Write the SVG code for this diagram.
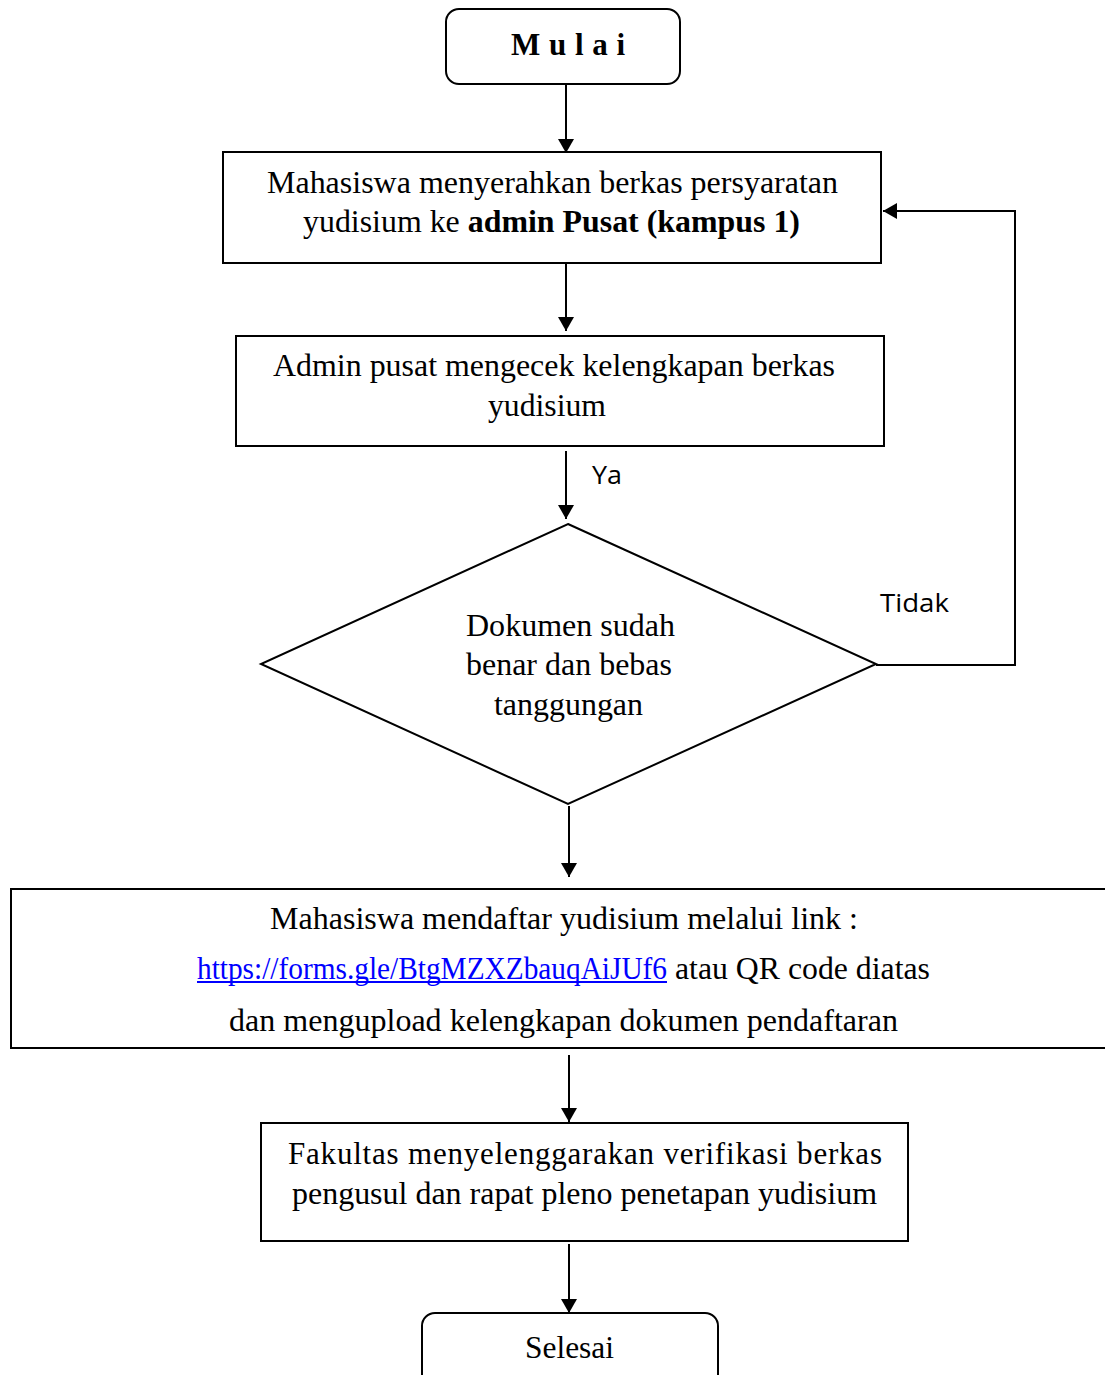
<svg xmlns="http://www.w3.org/2000/svg" width="1105" height="1375" viewBox="0 0 1105 1375">
<style>
.box{fill:#fff;stroke:#000;stroke-width:2}
.t{font-family:"Liberation Serif","Times New Roman",serif;font-size:31px;fill:#000}
.s{font-family:"Open Sans","Liberation Sans",Arial,sans-serif;font-size:26px;fill:#000}
.c{fill:none;stroke:#000;stroke-width:2}
</style>
<defs>
<marker id="ah" viewBox="0 0 14 16" refX="14" refY="8" markerWidth="14" markerHeight="16" markerUnits="userSpaceOnUse" orient="auto">
<path d="M0,0 L14,8 L0,16 Z" fill="#000"/>
</marker>
</defs>
<rect width="1105" height="1375" fill="#fff"/>
<g id="connectors">
<line class="c" x1="566" y1="84" x2="566" y2="153" marker-end="url(#ah)"/>
<line class="c" x1="566" y1="263" x2="566" y2="331" marker-end="url(#ah)"/>
<line class="c" x1="566" y1="451" x2="566" y2="519" marker-end="url(#ah)"/>
<polyline class="c" points="876,665 1015,665 1015,211 883,211" marker-end="url(#ah)"/>
<line class="c" x1="569" y1="806" x2="569" y2="877" marker-end="url(#ah)"/>
<line class="c" x1="569" y1="1055" x2="569" y2="1122" marker-end="url(#ah)"/>
<line class="c" x1="569" y1="1244" x2="569" y2="1313" marker-end="url(#ah)"/>
<text class="s" x="592" y="484" textLength="30" lengthAdjust="spacingAndGlyphs">Ya</text>
<text class="s" x="880" y="612" textLength="69" lengthAdjust="spacingAndGlyphs">Tidak</text>
</g>
<g id="mulai">
<rect class="box" x="446" y="9" width="234" height="75" rx="13"/>
<text class="t" x="511" y="55" font-size="32" font-weight="bold" textLength="114" lengthAdjust="spacing">Mulai</text>
</g>
<g id="serah">
<rect class="box" x="223" y="152" width="658" height="111"/>
<text class="t" x="267" y="193" textLength="571" lengthAdjust="spacingAndGlyphs">Mahasiswa menyerahkan berkas persyaratan</text>
<text class="t" x="303" y="232" textLength="497" lengthAdjust="spacingAndGlyphs">yudisium ke <tspan font-weight="bold">admin Pusat (kampus 1)</tspan></text>
</g>
<g id="cek">
<rect class="box" x="236" y="336" width="648" height="110"/>
<text class="t" x="273" y="376" textLength="562" lengthAdjust="spacingAndGlyphs">Admin pusat mengecek kelengkapan berkas</text>
<text class="t" x="488" y="416" textLength="118" lengthAdjust="spacingAndGlyphs">yudisium</text>
</g>
<g id="keputusan">
<polygon class="box" points="568,524 876,664 568,804 261,664"/>
<text class="t" x="466" y="636" textLength="209" lengthAdjust="spacingAndGlyphs">Dokumen sudah</text>
<text class="t" x="466" y="675" textLength="206" lengthAdjust="spacingAndGlyphs">benar dan bebas</text>
<text class="t" x="494" y="715" textLength="149" lengthAdjust="spacingAndGlyphs">tanggungan</text>
</g>
<g id="daftar">
<rect class="box" x="11" y="889" width="1110" height="159"/>
<text class="t" x="270" y="929" textLength="588" lengthAdjust="spacingAndGlyphs">Mahasiswa mendaftar yudisium melalui link :</text>
<text class="t" x="197" y="979" style="fill:#0000ff" textLength="470" lengthAdjust="spacingAndGlyphs">https://forms.gle/BtgMZXZbauqAiJUf6</text>
<line x1="197" y1="982" x2="667" y2="982" stroke="#0000ff" stroke-width="2"/>
<text class="t" x="675" y="979" textLength="255" lengthAdjust="spacingAndGlyphs">atau QR code diatas</text>
<text class="t" x="229" y="1031" textLength="669" lengthAdjust="spacingAndGlyphs">dan mengupload kelengkapan dokumen pendaftaran</text>
</g>
<g id="fakultas">
<rect class="box" x="261" y="1123" width="647" height="118"/>
<text class="t" x="288" y="1164" textLength="594" lengthAdjust="spacing">Fakultas menyelenggarakan verifikasi berkas</text>
<text class="t" x="292" y="1204" textLength="585" lengthAdjust="spacingAndGlyphs">pengusul dan rapat pleno penetapan yudisium</text>
</g>
<g id="selesai">
<rect class="box" x="422" y="1313" width="296" height="80" rx="13"/>
<text class="t" x="525" y="1358" textLength="89" lengthAdjust="spacingAndGlyphs">Selesai</text>
</g>
</svg>
